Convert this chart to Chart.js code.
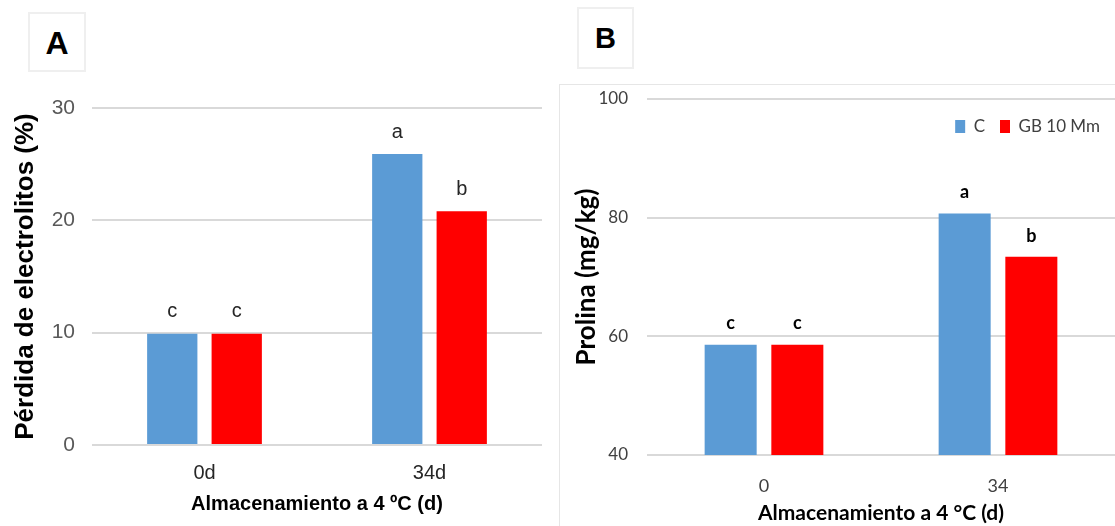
<!DOCTYPE html>
<html>
<head>
<meta charset="utf-8">
<script src="https://cdn.jsdelivr.net/npm/chart.js@4.4.1/dist/chart.umd.min.js"></script>
<style>
  body { margin: 0; background: #fff; }
  #page { position: relative; width: 1115px; height: 526px; overflow: hidden; background: #fff; }
  .panel { position: absolute; top: 0; height: 526px; }
  .tag { position: absolute; box-sizing: border-box; border: 2px solid #efefef; background: #fff;
         font-family: "Liberation Sans", Arial, sans-serif; font-weight: bold; color: #000;
         display: flex; align-items: center; justify-content: center; }
  #frameB { position: absolute; left: 559px; top: 84px; width: 600px; height: 500px;
            border-left: 1px solid #e6e6e6; border-top: 1px solid #e6e6e6; }
</style>
</head>
<body>
<div id="page">
  <div id="frameB"></div>
  <div class="panel" style="left:0;width:558px;"><canvas id="chartA"></canvas></div>
  <div class="panel" style="left:560px;width:555px;"><canvas id="chartB"></canvas></div>
  <div class="tag" style="left:28px;top:12px;width:58px;height:60px;font-size:32px;padding-top:2px;">A</div>
  <div class="tag" style="left:577px;top:7px;width:57px;height:62px;font-size:29px;padding-top:1px;">B</div>
</div>
<script>
// Panel A: pérdida de electrolitos
const catsA = ['0d', '34d'];
const ticksA = [0, 10, 20, 30];
const valsA_C = [9.9, 25.9];
const valsA_GB = [9.9, 20.8];
const letrasA_C = ['c', 'a'];
const letrasA_GB = ['c', 'b'];

// Panel B: prolina
const catsB = ['0', '34'];
const ticksB = [40, 60, 80, 100];
const valsB_C = [58.6, 80.7];
const valsB_GB = [58.6, 73.4];
const letrasB_C = ['c', 'a'];
const letrasB_GB = ['c', 'b'];

const series = ['C', 'GB 10 Mm'];
const azul = '#5b9bd5';
const rojo = '#ff0000';

const arial = '"Liberation Sans", Arial, sans-serif';
const lato = 'Lato, "Open Sans", sans-serif';

// letras de significancia encima de cada barra
const letrasPlugin = {
    id: 'letras',
    afterDatasetsDraw(chart, args, opts) {
        const ctx = chart.ctx;
        ctx.save();
        ctx.font = opts.font;
        ctx.fillStyle = opts.color;
        ctx.textAlign = 'center';
        ctx.textBaseline = 'middle';
        chart.data.datasets.forEach((ds, i) => {
            const meta = chart.getDatasetMeta(i);
            meta.data.forEach((bar, j) => {
                ctx.fillText(ds.letras[j], bar.x, bar.y - opts.offset);
            });
        });
        ctx.restore();
    }
};

// baja la leyenda para que quede dentro del área del gráfico
const leyendaDentro = {
    id: 'leyendaDentro',
    afterLayout(chart) {
        const lg = chart.legend;
        if (!lg) return;
        const h = lg.height;
        lg.top = chart.chartArea.top + 4;
        lg.bottom = lg.top + h;
    }
};

function fijarTicks(lista) {
    return scale => { scale.ticks = lista.map(v => ({ value: v })); };
}

const chartA = new Chart(document.getElementById('chartA'), {
    type: 'bar',
    data: {
        labels: catsA,
        datasets: [
            { label: series[0], data: valsA_C, letras: letrasA_C, backgroundColor: azul, borderWidth: 0,
              categoryPercentage: 0.573, barPercentage: 0.78 },
            { label: series[1], data: valsA_GB, letras: letrasA_GB, backgroundColor: rojo, borderWidth: 0,
              categoryPercentage: 0.573, barPercentage: 0.78 }
        ]
    },
    options: {
        responsive: true,
        maintainAspectRatio: false,
        animation: false,
        layout: { padding: { top: 108, right: 16, left: 0, bottom: 0 } },
        plugins: {
            legend: { display: false },
            tooltip: { enabled: false },
            letras: { font: '20px ' + arial, color: '#262626', offset: 22 }
        },
        scales: {
            y: {
                min: 0, max: 30,
                afterBuildTicks: fijarTicks(ticksA),
                afterFit: s => { s.width = 92; },
                border: { display: false },
                grid: { color: '#d9d9d9', lineWidth: 2, drawTicks: false },
                ticks: { padding: 17, color: '#595959', font: { family: arial, size: 21 } },
                title: { display: true, text: 'Pérdida de electrolitos (%)', color: '#000',
                         font: { family: arial, size: 26, weight: 'bold' }, padding: { top: 10, bottom: 0 } }
            },
            x: {
                afterFit: s => { s.height = 81; },
                border: { display: false },
                grid: { display: false, drawTicks: false },
                ticks: { padding: 16, color: '#262626', font: { family: arial, size: 20 } },
                title: { display: true, text: 'Almacenamiento a 4 ºC (d)', color: '#000',
                         font: { family: arial, size: 20, weight: 'bold' }, padding: { top: 0, bottom: 10 } }
            }
        }
    },
    plugins: [letrasPlugin]
});

const chartB = new Chart(document.getElementById('chartB'), {
    type: 'bar',
    data: {
        labels: catsB,
        datasets: [
            { label: series[0], data: valsB_C, letras: letrasB_C, backgroundColor: azul, borderWidth: 0,
              categoryPercentage: 0.57, barPercentage: 0.78 },
            { label: series[1], data: valsB_GB, letras: letrasB_GB, backgroundColor: rojo, borderWidth: 0,
              categoryPercentage: 0.57, barPercentage: 0.78 }
        ]
    },
    options: {
        responsive: true,
        maintainAspectRatio: false,
        animation: false,
        layout: { padding: { top: 57, right: 0, left: 0, bottom: 0 } },
        plugins: {
            legend: {
                display: true, position: 'top', align: 'end',
                labels: { boxWidth: 10, boxHeight: 13, padding: 15, color: '#404040',
                          font: { family: lato, size: 17 } }
            },
            tooltip: { enabled: false },
            letras: { font: 'bold 18px ' + lato, color: '#000', offset: 21 }
        },
        scales: {
            y: {
                min: 40, max: 100,
                afterBuildTicks: fijarTicks(ticksB),
                afterFit: s => { s.width = 87; },
                border: { display: false },
                grid: { color: '#d9d9d9', lineWidth: 2, drawTicks: false },
                ticks: { padding: 19, color: '#404040', font: { family: lato, size: 17 } },
                title: { display: true, text: 'Prolina (mg/kg)', color: '#000',
                         font: { family: lato, size: 26, weight: 'bold' }, padding: { top: 11, bottom: 0 } }
            },
            x: {
                afterFit: s => { s.height = 71; },
                border: { display: false },
                grid: { display: false, drawTicks: false },
                ticks: { padding: 20, color: '#404040', font: { family: lato, size: 18 } },
                title: { display: true, text: 'Almacenamiento a 4 °C (d)', color: '#000',
                         font: { family: lato, size: 21, weight: 'bold' }, padding: { top: 0, bottom: 0 } }
            }
        }
    },
    plugins: [letrasPlugin, leyendaDentro]
});
</script>
</body>
</html>
